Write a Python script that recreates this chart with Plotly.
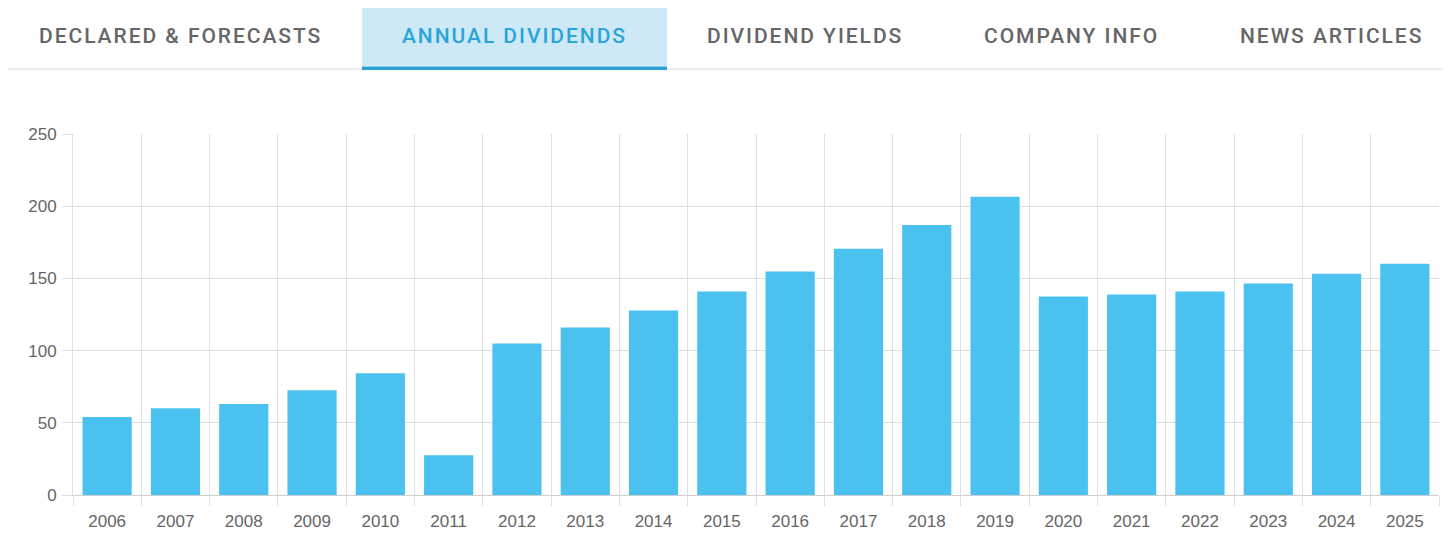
import plotly.graph_objects as go

# annual dividend amounts
years = [str(y) for y in range(2006, 2026)]
dividends = [54, 60, 63, 72.5, 84.3, 27.6, 105, 116, 127.8, 140.9,
             154.7, 170.6, 187, 206.5, 137.4, 138.8, 140.9, 146.5, 153.3, 160.1]

tab_labels = ["DECLARED & FORECASTS", "ANNUAL DIVIDENDS", "DIVIDEND YIELDS",
              "COMPANY INFO", "NEWS ARTICLES"]
active_tab = 1

# the page body has an 8px margin, so lay out in page pixels minus 8
OFF = 8
W, H = 1451 - 2 * OFF, 554 - 2 * OFF
L, T = 73 - OFF, 134 - OFF
R = W - (1439 - OFF)
B = H - (495 - OFF)
plot_w = W - L - R
plot_h = H - T - B


def px_x(px):
    return (px - OFF - L) / plot_w


def px_y(py):
    return (H - B - (py - OFF)) / plot_h


tab_centers_px = [180, 514, 805, 1071, 1331]

fig = go.Figure()
fig.add_trace(go.Bar(
    x=years, y=dividends,
    marker=dict(color="#4AC1EF", line=dict(width=0)),
    hoverinfo="x+y",
))

# tab bar
shapes = [
    dict(type="rect", xref="paper", yref="paper",
         x0=px_x(362), x1=px_x(667), y0=px_y(66), y1=px_y(0),
         fillcolor="#CDE9F5", line=dict(width=0), layer="below"),
    dict(type="line", xref="paper", yref="paper",
         x0=px_x(0), x1=px_x(1451), y0=px_y(69), y1=px_y(69),
         line=dict(color="#DDDDDD", width=1)),
    dict(type="rect", xref="paper", yref="paper",
         x0=px_x(362), x1=px_x(667), y0=px_y(70), y1=px_y(66.5),
         fillcolor="#2A9FD6", line=dict(width=0)),
]
annotations = []
for i, (lab, cx) in enumerate(zip(tab_labels, tab_centers_px)):
    annotations.append(dict(
        text='<span style="letter-spacing:1.95px">' + lab + '</span>',
        xref="paper", yref="paper",
        x=px_x(cx), y=px_y(35.5), xanchor="center", yanchor="middle",
        showarrow=False,
        font=dict(family="Roboto", size=21, weight=500,
                  color="#2AA5DB" if i == active_tab else "#666666"),
    ))

fig.update_layout(
    width=W, height=H,
    margin=dict(l=L, r=R, t=T, b=B),
    paper_bgcolor="white", plot_bgcolor="white",
    bargap=0.28,
    showlegend=False,
    shapes=shapes,
    annotations=annotations,
    font=dict(family="Arial, Liberation Sans", size=17, color="#666666"),
    xaxis=dict(
        type="category", tickson="boundaries",
        showgrid=True, gridcolor="#E0E0E0", gridwidth=1,
        ticks="outside", ticklen=10, tickcolor="#E0E0E0",
        showline=True, linecolor="#CFCFCF", linewidth=1,
        tickfont=dict(size=17, color="#666666"),
        ticklabelstandoff=11,
        fixedrange=True,
    ),
    yaxis=dict(
        range=[0, 250], dtick=50,
        showgrid=True, gridcolor="#E0E0E0", gridwidth=1,
        zeroline=False,
        ticks="outside", ticklen=10, tickcolor="#E0E0E0",
        showline=True, linecolor="#E0E0E0", linewidth=1,
        tickfont=dict(size=17, color="#666666"),
        ticklabelstandoff=2,
        fixedrange=True,
    ),
)

fig.write_html("out.html")
